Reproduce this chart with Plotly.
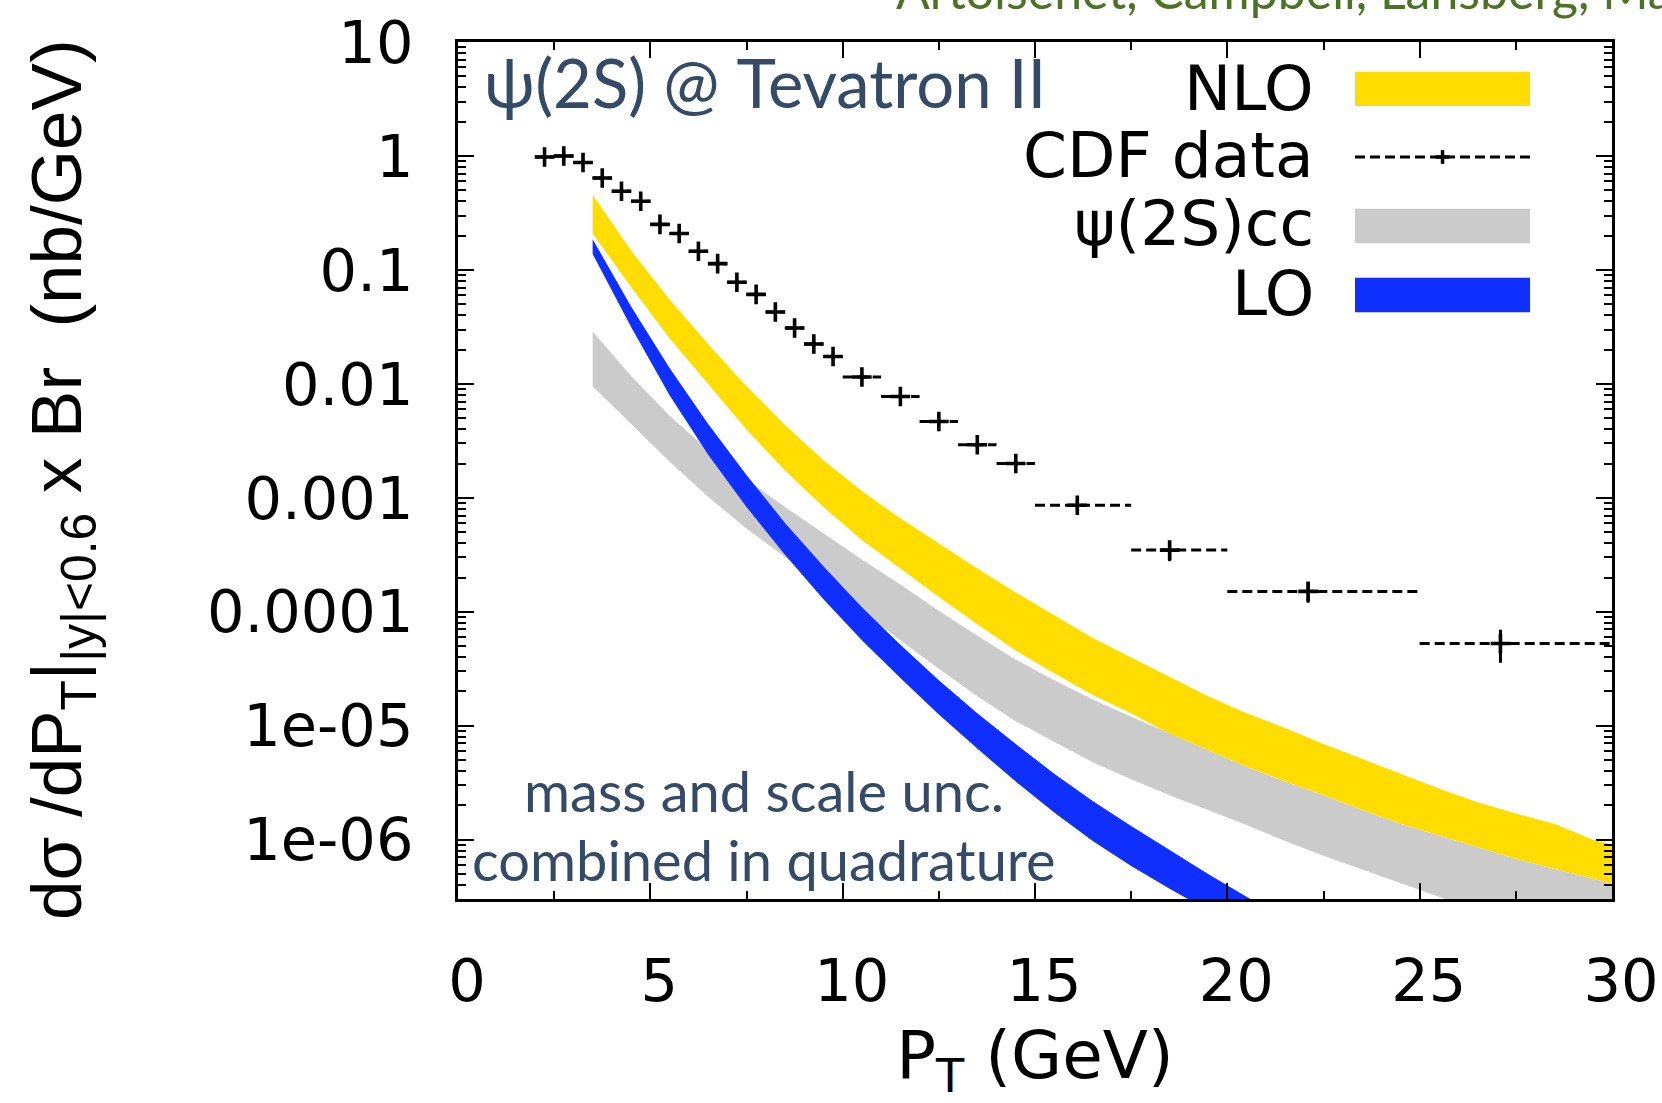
import plotly.graph_objects as go

# ---------------- data ----------------
# theory band nodes (pT in GeV); band edges given as log10 of dsigma/dpT x Br (nb/GeV)
pt_nodes = [3.5, 4.5, 5.5, 6.5, 7.5, 8.5, 9.5, 10.5, 11.5, 12.5, 13.5, 14.5, 15.5, 16.5,
            17.5, 18.5, 19.5, 20.5, 21.5, 22.5, 23.5, 24.5, 25.5, 26.5, 27.5, 28.5, 29.5, 30.5]

nlo_hi_log = [-0.34, -0.83, -1.26, -1.65, -2.02, -2.36, -2.67, -2.94, -3.18, -3.40, -3.62, -3.83, -4.03, -4.23,
              -4.40, -4.57, -4.74, -4.89, -5.02, -5.16, -5.29, -5.42, -5.55, -5.67, -5.77, -5.86, -6.00, -6.08]
nlo_lo_log = [-0.68, -1.15, -1.60, -2.00, -2.40, -2.76, -3.08, -3.37, -3.62, -3.87, -4.11, -4.34, -4.54, -4.73,
              -4.89, -5.07, -5.215, -5.36, -5.49, -5.61, -5.74, -5.86, -5.96, -6.065, -6.167, -6.255, -6.343, -6.43]

cc_hi_log = [-1.54, -1.93, -2.28, -2.58, -2.84, -3.08, -3.31, -3.54, -3.76, -3.99, -4.21, -4.42, -4.60, -4.77,
             -4.92, -5.07, -5.215, -5.36, -5.49, -5.61, -5.74, -5.86, -5.96, -6.065, -6.167, -6.255, -6.343, -6.43]
cc_lo_log = [-2.02, -2.35, -2.68, -2.99, -3.27, -3.52, -3.76, -4.00, -4.25, -4.50, -4.74, -4.96, -5.14, -5.32,
             -5.47, -5.61, -5.74, -5.87, -6.01, -6.14, -6.26, -6.38, -6.50, -6.61, -6.72, -6.82, -6.92, -7.02]

pt_nodes_lo = [3.5, 4.5, 5.5, 6.5, 7.5, 8.5, 9.5, 10.5, 11.5, 12.5, 13.5, 14.5, 15.5, 16.5,
               17.5, 18.5, 19.5, 20.5, 21.5]
lo_hi_log = [-0.73, -1.32, -1.86, -2.35, -2.80, -3.22, -3.60, -3.96, -4.29, -4.60, -4.89, -5.16, -5.42, -5.66,
             -5.88, -6.09, -6.30, -6.50, -6.70]
lo_lo_log = [-0.86, -1.50, -2.10, -2.62, -3.08, -3.50, -3.89, -4.25, -4.58, -4.90, -5.20, -5.49, -5.76, -6.01,
             -6.23, -6.43, -6.62, -6.80, -6.98]

# CDF data
cdf_pt = [2.25, 2.75, 3.25, 3.75, 4.25, 4.75, 5.25, 5.75, 6.25, 6.75, 7.25, 7.75, 8.25, 8.75, 9.25, 9.75,
          10.5, 11.5, 12.5, 13.5, 14.5, 16.1, 18.5, 22.1, 27.1]
cdf_bin_lo = [2.0, 2.5, 3.0, 3.5, 4.0, 4.5, 5.0, 5.5, 6.0, 6.5, 7.0, 7.5, 8.0, 8.5, 9.0, 9.5,
              10, 11, 12, 13, 14, 15, 17.5, 20, 25]
cdf_bin_hi = [2.5, 3.0, 3.5, 4.0, 4.5, 5.0, 5.5, 6.0, 6.5, 7.0, 7.5, 8.0, 8.5, 9.0, 9.5, 10,
              11, 12, 13, 14, 15, 17.5, 20, 25, 30]
cdf_val = [0.98, 1.0, 0.877, 0.641, 0.49, 0.40, 0.251, 0.209, 0.146, 0.1135, 0.078, 0.061, 0.0427, 0.0309,
           0.0224, 0.0174, 0.0115, 0.00776, 0.00468, 0.00292, 0.0020, 8.6e-4, 3.48e-4, 1.51e-4, 5.27e-5]
cdf_err = [0.05, 0.05, 0.04, 0.03, 0.025, 0.02, 0.013, 0.011, 0.008, 0.006, 0.004, 0.003, 0.0022, 0.0016,
           0.0012, 0.0009, 0.0006, 0.0004, 0.00025, 0.00016, 0.00011, 1.0e-4, 0.7e-4, 0.31e-4, 1.7e-5]

x_ticks = [0, 5, 10, 15, 20, 25, 30]
y_tickvals = [1e-6, 1e-5, 1e-4, 1e-3, 1e-2, 1e-1, 1, 10]
y_ticktext = ["1e-06", "1e-05", "0.0001", "0.001", "0.01", "0.1", "1", "10"]

legend_labels = ["NLO", "CDF data", "ψ(2S)cc", "LO"]

# ---------------- styles ----------------
YELLOW = "#FFDD00"
GREY = "#CBCBCB"
BLUE = "#0F2FFF"
NAVY = "#344B68"
GREEN = "#4B7325"
TICKFONT = "DejaVu Sans"


def band(x, hi_log, lo_log, color):
    xs = list(x) + list(x)[::-1]
    ys = [10 ** v for v in hi_log] + [10 ** v for v in lo_log][::-1]
    return go.Scatter(x=xs, y=ys, fill="toself", fillcolor=color, mode="lines",
                      line=dict(width=0, color=color), hoverinfo="skip", showlegend=False)


fig = go.Figure()
fig.add_trace(band(pt_nodes, nlo_hi_log, nlo_lo_log, YELLOW))
fig.add_trace(band(pt_nodes, cc_hi_log, cc_lo_log, GREY))
fig.add_trace(band(pt_nodes_lo, lo_hi_log, lo_lo_log, BLUE))

# horizontal (bin width) dashed bars of the data
hx, hy = [], []
for lo, hi, v in zip(cdf_bin_lo, cdf_bin_hi, cdf_val):
    hx += [lo, hi, None]
    hy += [v, v, None]
fig.add_trace(go.Scatter(x=hx, y=hy, mode="lines", line=dict(color="black", width=3, dash="10px,5px"),
                         showlegend=False, hoverinfo="skip"))
fig.add_trace(go.Scatter(x=cdf_pt, y=cdf_val, mode="markers",
                         marker=dict(symbol="cross-thin", size=14, line=dict(color="black", width=3.6)),
                         error_y=dict(type="data", array=cdf_err, visible=True, color="black",
                                      thickness=3, width=0),
                         showlegend=False))

axis_common = dict(showline=True, linecolor="black", linewidth=2.5, mirror="allticks",
                   ticks="inside", ticklen=16, tickwidth=2, tickcolor="black",
                   showgrid=False, zeroline=False, automargin=False,
                   tickfont=dict(family=TICKFONT, size=59, color="black"))

fig.update_xaxes(range=[0, 30], tickmode="array", tickvals=x_ticks,
                 minor=dict(ticks="inside", ticklen=8, tickwidth=2, tickcolor="black", dtick=2.5, showgrid=False),
                 ticklabelstandoff=28, ticklabelshift=9,
                 title=dict(text="P<sub>T</sub> (GeV)", font=dict(family=TICKFONT, size=66, color="black"),
                            standoff=30),
                 **axis_common)

minor_y = [m * 10 ** e for e in range(-7, 1) for m in range(2, 10)]
fig.update_yaxes(type="log", range=[-6.52, 1], tickmode="array", tickvals=y_tickvals, ticktext=y_ticktext,
                 minor=dict(ticks="inside", ticklen=8, tickwidth=2, tickcolor="black",
                            tickmode="array", tickvals=minor_y, showgrid=False),
                 ticklabelstandoff=30,
                 **axis_common)

annotations = []
# y axis title
annotations.append(dict(text="dσ /dP<sub>T</sub>|<sub>|y|&lt;0.6</sub> x Br  (nb/GeV)", textangle=-90,
                        xref="paper", yref="paper", x=-0.343, y=0.489, xanchor="center", yanchor="middle",
                        showarrow=False, font=dict(family="Liberation Sans", size=71, color="black")))
# header (clipped by the page edge, as in the original)
annotations.append(dict(text="Artoisenet, Campbell, Lansberg, Maltoni, Tramontano", xref="paper", yref="paper",
                        x=0.378, y=1.0233, xanchor="left", yanchor="bottom", showarrow=False,
                        font=dict(family="Lato", size=50, color=GREEN)))
annotations.append(dict(text="ψ(2S) @ Tevatron II", xref="paper", yref="paper", x=0.021, y=0.953,
                        xanchor="left", yanchor="middle", showarrow=False,
                        font=dict(family="Lato", size=67, color=NAVY)))
annotations.append(dict(text="mass and scale unc.", xref="paper", yref="paper", x=0.265, y=0.127,
                        xanchor="center", yanchor="middle", showarrow=False,
                        font=dict(family="Lato", size=56, color=NAVY)))
annotations.append(dict(text="combined in quadrature", xref="paper", yref="paper", x=0.265, y=0.046,
                        xanchor="center", yanchor="middle", showarrow=False,
                        font=dict(family="Lato", size=56, color=NAVY)))

# legend (text right-aligned, sample on the right)
leg_y = [0.9463, 0.8680, 0.7880, 0.7060]
for lab, yy in zip(legend_labels, leg_y):
    annotations.append(dict(text=lab, xref="paper", yref="paper", x=0.7435, y=yy, xanchor="right",
                            yanchor="middle", showarrow=False,
                            font=dict(family=TICKFONT, size=63, color="black")))

sx0, sx1 = 0.7773, 0.929
box_y = [0.9453, 0.8658, 0.7853, 0.7048]
hh = 0.0200
shapes = [
    dict(type="rect", xref="paper", yref="paper", x0=sx0, x1=sx1, y0=box_y[0] - hh, y1=box_y[0] + hh,
         fillcolor=YELLOW, line=dict(width=0)),
    dict(type="rect", xref="paper", yref="paper", x0=sx0, x1=sx1, y0=box_y[2] - hh, y1=box_y[2] + hh,
         fillcolor=GREY, line=dict(width=0)),
    dict(type="rect", xref="paper", yref="paper", x0=sx0, x1=sx1, y0=box_y[3] - hh, y1=box_y[3] + hh,
         fillcolor=BLUE, line=dict(width=0)),
    dict(type="line", xref="paper", yref="paper", x0=sx0, x1=sx1, y0=box_y[1], y1=box_y[1],
         line=dict(color="black", width=3, dash="10px,5px")),
    dict(type="line", xref="paper", yref="paper", x0=(sx0 + sx1) / 2, x1=(sx0 + sx1) / 2,
         y0=box_y[1] - 0.008, y1=box_y[1] + 0.008, line=dict(color="black", width=3.5)),
    dict(type="line", xref="paper", yref="paper", x0=(sx0 + sx1) / 2 - 0.006, x1=(sx0 + sx1) / 2 + 0.006,
         y0=box_y[1], y1=box_y[1], line=dict(color="black", width=3.5)),
]

fig.update_layout(width=1662, height=1103, margin=dict(l=458, r=50, t=42, b=204, autoexpand=False),
                  paper_bgcolor="white", plot_bgcolor="white", showlegend=False,
                  annotations=annotations, shapes=shapes)

fig.write_html("out.html", config={"displayModeBar": False},
               post_script="document.body.style.margin='0';")
